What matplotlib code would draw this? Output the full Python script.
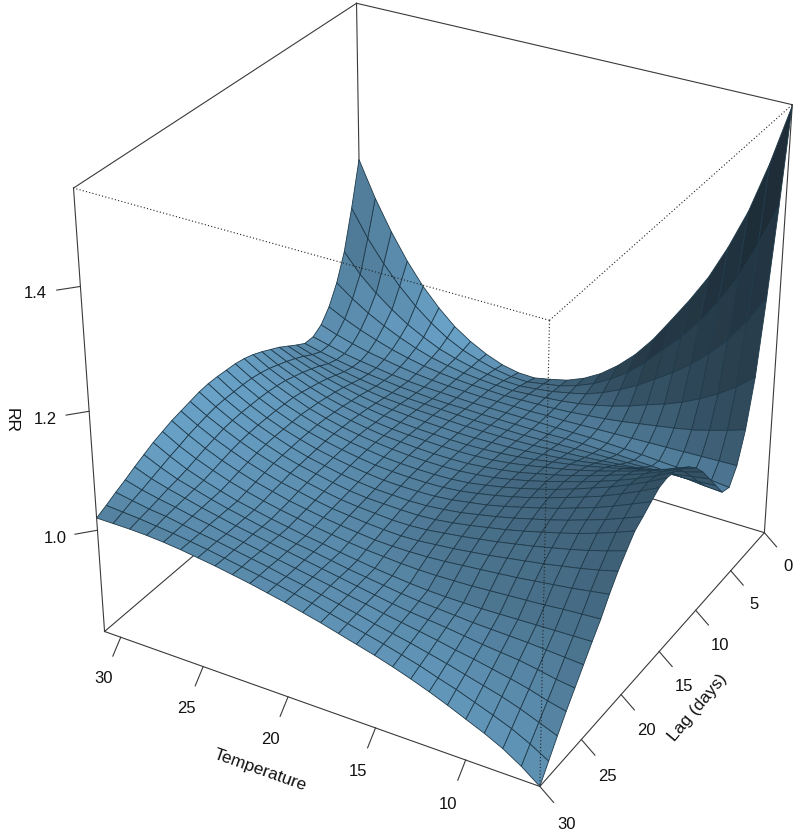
import numpy as np
import matplotlib
matplotlib.use("Agg")
import matplotlib.pyplot as plt
from mpl_toolkits.mplot3d import proj3d

temperature = list(range(6, 32))
lag = list(range(0, 31))
# RR, one row per lag day, temperature 6..31 left to right
rr_by_lag = [
    [1.549,1.450,1.365,1.298,1.240,1.193,1.150,1.108,1.073,1.045,1.022,1.005,0.993,0.986,0.980,0.981,0.987,0.998,1.013,1.032,1.058,1.089,1.127,1.172,1.224,1.285],
    [1.400,1.329,1.266,1.218,1.175,1.141,1.110,1.079,1.053,1.033,1.016,1.004,0.995,0.990,0.985,0.986,0.991,0.999,1.009,1.023,1.042,1.065,1.093,1.126,1.164,1.210],
    [1.260,1.212,1.173,1.141,1.114,1.091,1.071,1.051,1.035,1.021,1.010,1.003,0.997,0.993,0.990,0.991,0.994,0.999,1.006,1.015,1.028,1.043,1.062,1.084,1.110,1.143],
    [1.138,1.113,1.092,1.075,1.060,1.048,1.038,1.027,1.018,1.011,1.005,1.001,0.998,0.996,0.994,0.995,0.997,1.000,1.005,1.011,1.020,1.031,1.044,1.059,1.077,1.098],
    [1.060,1.050,1.041,1.033,1.027,1.022,1.017,1.012,1.008,1.005,1.002,1.000,0.999,0.998,0.997,0.998,0.999,1.001,1.004,1.008,1.014,1.021,1.030,1.040,1.052,1.066],
    [1.010,1.009,1.008,1.007,1.006,1.005,1.004,1.003,1.002,1.001,1.000,1.000,0.999,0.999,0.999,0.999,1.000,1.001,1.003,1.006,1.010,1.015,1.020,1.027,1.035,1.045],
    [0.985,0.988,0.991,0.993,0.995,0.997,0.998,0.999,1.000,1.000,1.000,1.000,1.000,1.000,1.000,1.000,1.001,1.002,1.003,1.005,1.008,1.012,1.016,1.021,1.028,1.035],
    [0.990,0.992,0.995,0.997,0.999,1.000,1.001,1.001,1.002,1.002,1.001,1.001,1.001,1.001,1.001,1.002,1.002,1.003,1.005,1.007,1.010,1.013,1.017,1.022,1.028,1.035],
    [1.015,1.013,1.012,1.011,1.010,1.009,1.008,1.007,1.006,1.005,1.004,1.003,1.003,1.003,1.003,1.004,1.005,1.006,1.007,1.009,1.012,1.016,1.021,1.027,1.035,1.044],
    [1.040,1.035,1.030,1.026,1.022,1.019,1.016,1.013,1.011,1.009,1.007,1.006,1.005,1.005,1.005,1.006,1.007,1.008,1.010,1.012,1.016,1.021,1.027,1.035,1.044,1.054],
    [1.065,1.056,1.048,1.041,1.035,1.030,1.025,1.020,1.016,1.013,1.010,1.008,1.007,1.006,1.006,1.007,1.008,1.010,1.012,1.015,1.020,1.026,1.033,1.042,1.052,1.064],
    [1.085,1.074,1.064,1.055,1.047,1.040,1.033,1.027,1.022,1.017,1.013,1.010,1.008,1.007,1.007,1.008,1.009,1.011,1.014,1.018,1.023,1.030,1.038,1.048,1.059,1.072],
    [1.100,1.087,1.075,1.065,1.056,1.047,1.039,1.032,1.026,1.020,1.015,1.011,1.009,1.008,1.008,1.009,1.010,1.012,1.015,1.020,1.026,1.033,1.042,1.053,1.065,1.080],
    [1.110,1.096,1.083,1.072,1.062,1.052,1.043,1.035,1.028,1.021,1.016,1.012,1.009,1.008,1.008,1.009,1.011,1.013,1.017,1.022,1.028,1.036,1.046,1.058,1.071,1.087],
    [1.118,1.102,1.088,1.076,1.065,1.055,1.046,1.037,1.029,1.022,1.016,1.012,1.009,1.008,1.008,1.009,1.011,1.014,1.018,1.023,1.030,1.038,1.049,1.061,1.075,1.092],
    [1.121,1.105,1.091,1.078,1.067,1.056,1.046,1.037,1.029,1.022,1.016,1.011,1.008,1.007,1.007,1.008,1.010,1.014,1.018,1.024,1.031,1.040,1.050,1.063,1.078,1.095],
    [1.118,1.103,1.089,1.076,1.065,1.055,1.045,1.036,1.028,1.021,1.015,1.010,1.007,1.006,1.006,1.007,1.009,1.013,1.018,1.024,1.031,1.040,1.051,1.064,1.079,1.096],
    [1.108,1.095,1.082,1.070,1.060,1.050,1.041,1.033,1.025,1.018,1.013,1.008,1.005,1.004,1.004,1.005,1.008,1.012,1.017,1.023,1.031,1.040,1.051,1.064,1.079,1.097],
    [1.097,1.085,1.073,1.063,1.053,1.044,1.036,1.028,1.021,1.015,1.009,1.005,1.002,1.001,1.002,1.003,1.006,1.010,1.016,1.022,1.030,1.040,1.051,1.064,1.079,1.097],
    [1.087,1.075,1.064,1.054,1.045,1.037,1.029,1.022,1.016,1.010,1.005,1.001,0.999,0.999,1.000,1.001,1.004,1.009,1.015,1.021,1.029,1.039,1.050,1.063,1.078,1.095],
    [1.068,1.058,1.049,1.041,1.034,1.027,1.021,1.015,1.010,1.005,1.001,0.997,0.995,0.995,0.997,0.999,1.002,1.007,1.013,1.020,1.028,1.037,1.048,1.061,1.075,1.091],
    [1.048,1.040,1.033,1.027,1.021,1.016,1.011,1.006,1.002,0.998,0.995,0.992,0.991,0.992,0.994,0.997,1.000,1.005,1.011,1.017,1.025,1.034,1.045,1.057,1.071,1.087],
    [1.024,1.019,1.014,1.010,1.006,1.002,0.999,0.996,0.993,0.990,0.988,0.987,0.987,0.988,0.991,0.994,0.998,1.003,1.008,1.015,1.022,1.031,1.041,1.053,1.067,1.083],
    [0.997,0.995,0.993,0.990,0.988,0.986,0.984,0.982,0.981,0.980,0.980,0.981,0.983,0.985,0.988,0.992,0.996,1.001,1.006,1.012,1.019,1.027,1.037,1.048,1.061,1.077],
    [0.974,0.973,0.972,0.971,0.970,0.969,0.968,0.968,0.968,0.969,0.971,0.974,0.977,0.981,0.985,0.990,0.994,0.999,1.004,1.010,1.016,1.024,1.033,1.043,1.056,1.071],
    [0.950,0.952,0.954,0.956,0.957,0.958,0.959,0.961,0.963,0.965,0.968,0.972,0.976,0.980,0.985,0.990,0.994,0.999,1.004,1.010,1.016,1.023,1.031,1.039,1.050,1.063],
    [0.926,0.930,0.936,0.941,0.944,0.947,0.951,0.955,0.958,0.961,0.965,0.970,0.975,0.980,0.985,0.990,0.995,1.000,1.005,1.010,1.016,1.022,1.029,1.036,1.044,1.055],
    [0.902,0.909,0.918,0.925,0.931,0.937,0.942,0.948,0.953,0.958,0.963,0.969,0.974,0.980,0.985,0.990,0.995,1.000,1.005,1.010,1.016,1.021,1.027,1.032,1.038,1.046],
    [0.876,0.888,0.900,0.910,0.918,0.926,0.934,0.941,0.948,0.954,0.960,0.967,0.973,0.979,0.985,0.990,0.996,1.001,1.006,1.011,1.015,1.020,1.025,1.028,1.033,1.038],
    [0.849,0.867,0.882,0.894,0.905,0.916,0.925,0.935,0.943,0.951,0.958,0.965,0.972,0.979,0.985,0.991,0.996,1.001,1.006,1.011,1.015,1.019,1.022,1.025,1.027,1.029],
    [0.822,0.845,0.864,0.879,0.892,0.905,0.917,0.928,0.938,0.947,0.955,0.963,0.971,0.978,0.985,0.991,0.997,1.002,1.007,1.011,1.015,1.018,1.020,1.021,1.021,1.021],
]
temp_ticks = [10, 15, 20, 25, 30]
lag_ticks = [0, 5, 10, 15, 20, 25, 30]
rr_ticks = [1.0, 1.2, 1.4]

T0, T1 = 6, 31
L0, L1 = 0, 30
Z0, Z1 = 0.822, 1.551
W, H = 797, 834

plt.rcParams["font.family"] = ["Liberation Sans", "DejaVu Sans"]

fig = plt.figure(figsize=(W / 100, H / 100), dpi=100)
side = 4572 * 0.185
ax = fig.add_axes([(442.9 - 4572 * 0.095) / W, (461.7 - 4572 * 0.095) / H, side / W, side / H], projection="3d")
ax.set_box_aspect((1, 1, 1))
ax.set_proj_type("persp", focal_length=0.648)
ax.view_init(30.19, 120.12, 0)
ax.set_xlim(T0, T1)
ax.set_ylim(L0, L1)
ax.set_zlim(Z0, Z1)
ax.set_axis_off()
ax.computed_zorder = False

tt, ll = np.meshgrid(temperature, lag)
rr = np.array(rr_by_lag)

# facet shading like persp(): normal in box units against a fixed light
bx = (tt - T0) / (T1 - T0)
by = (ll - L0) / (L1 - L0)
bz = (rr - Z0) / (Z1 - Z0)
pts = np.dstack([bx, by, bz])
d1 = pts[1:, 1:] - pts[:-1, :-1]
d2 = pts[1:, :-1] - pts[:-1, 1:]
nrm = np.cross(d1, d2)
nrm = nrm * np.sign(nrm[..., 2:3])
nrm = nrm / np.linalg.norm(nrm, axis=2, keepdims=True)
light = np.array([-0.72, 0.13, 0.68])
light = light / np.linalg.norm(light)
shade = ((1 + nrm @ light) / 2) ** 1.6
base = np.array([0x6C, 0xA6, 0xCD]) / 255
faces = shade[..., None] * base

surf = ax.plot_surface(tt, ll, rr, facecolors=faces, rstride=1, cstride=1, shade=False, zorder=2)
surf.set_edgecolor("#1f3a4a")
surf.set_linewidth(0.6)

def seg(a, b, **kw):
    ax.plot([a[0], b[0]], [a[1], b[1]], [a[2], b[2]], clip_on=False, **kw)

def label(x, y, z, s):
    # place the text in 2D where the 3D point lands
    px, py, _ = proj3d.proj_transform(x, y, z, ax.get_proj())
    ax.text2D(px, py, s, transform=ax.transData, fontsize=12, ha="center", va="center", color="#111111", zorder=5)

solid = dict(color="#3a3a3a", lw=0.8)
dotted = dict(color="#222222", lw=0.8, ls=(0, (1, 2)))
# hidden back edges go under the surface
seg((T1, L0, Z0), (T1, L0, Z1), zorder=1, **solid)
seg((T1, L0, Z0), (T1, L1, Z0), zorder=1, **solid)
seg((T1, L0, Z0), (T0, L0, Z0), zorder=1, **solid)
seg((T1, L0, Z1), (T1, L1, Z1), zorder=1, **solid)
seg((T1, L0, Z1), (T0, L0, Z1), zorder=1, **solid)
seg((T1, L1, Z0), (T1, L1, Z1), zorder=3, **solid)
seg((T0, L0, Z0), (T0, L0, Z1), zorder=1, **solid)
seg((T1, L1, Z0), (T0, L1, Z0), zorder=3, **solid)
seg((T0, L1, Z0), (T0, L0, Z0), zorder=3, **solid)
# front edges of the box are dotted on top of everything
seg((T0, L1, Z1), (T1, L1, Z1), zorder=4, **dotted)
seg((T0, L1, Z1), (T0, L0, Z1), zorder=4, **dotted)
seg((T0, L1, Z1), (T0, L1, Z0), zorder=4, **dotted)

dz = Z1 - Z0
dt = T1 - T0
dl = L1 - L0
tick = dict(color="#3a3a3a", lw=0.8, zorder=3)
for t in temp_ticks:
    seg((t, L1, Z0), (t, L1 + 0.03 * dl, Z0 - 0.028 * dz), **tick)
    label(t, L1 + 0.065 * dl, Z0 - 0.062 * dz, str(t))
for l in lag_ticks:
    seg((T0, l, Z0), (T0 - 0.03 * dt, l, Z0 - 0.026 * dz), **tick)
    label(T0 - 0.058 * dt, l, Z0 - 0.066 * dz, str(l))
for r in rr_ticks:
    seg((T1, L1, r), (T1 + 0.03 * dt, L1 + 0.034 * dl, r), **tick)
    label(T1 + 0.055 * dt, L1 + 0.066 * dl, r, "%.1f" % r)

fig.text(260 / W, 1 - 770 / H, "Temperature", rotation=-19.5, fontsize=12.5, ha="center", va="center", color="#111111")
fig.text(698 / W, 1 - 708 / H, "Lag (days)", rotation=50, fontsize=12.5, ha="center", va="center", color="#111111")
fig.text(11 / W, 1 - 420 / H, "RR", rotation=-90, fontsize=12.5, ha="center", va="center", color="#111111")

fig.savefig("out.png", dpi=100)
